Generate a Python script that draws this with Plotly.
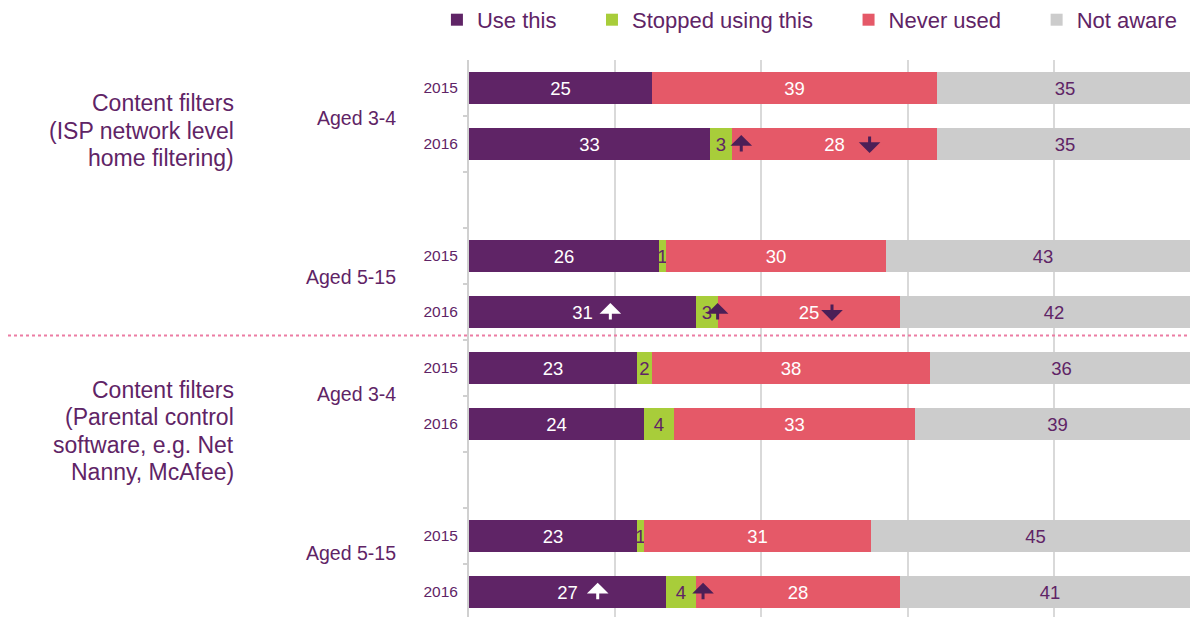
import plotly.graph_objects as go

# ---- data ----
categories = [["Content filters", "(ISP network level", "home filtering)"],
              ["Content filters", "(Parental control", "software, e.g. Net", "Nanny, McAfee)"]]
age_groups = ["Aged 3-4", "Aged 5-15"]
years = ["2015", "2016"]

use_this = [25, 33, 26, 31, 23, 24, 23, 27]
stopped_using = [0, 3, 1, 3, 2, 4, 1, 4]
never_used = [39, 28, 30, 25, 38, 33, 31, 28]
not_aware = [35, 35, 43, 42, 36, 39, 45, 41]

series_names = ["Use this", "Stopped using this", "Never used", "Not aware"]
series_values = [use_this, stopped_using, never_used, not_aware]
series_colors = ["#5f2466", "#a8cd3a", "#e55968", "#cccccc"]
text_colors = ["#ffffff", "#5f2466", "#ffffff", "#5f2466"]

# significance arrows: (bar index, series index, direction, xshift px)
arrows = [(1, 1, "up", 20), (1, 2, "down", 35),
          (3, 0, "up", 28), (3, 1, "up", 11), (3, 2, "down", 23),
          (7, 0, "up", 30), (7, 1, "up", 22)]

# ---- rows: each age group = 2 bars, a gap slot between age groups ----
slots = []
s = 0
for c in range(len(categories)):
    for a in range(len(age_groups)):
        for y in range(len(years)):
            slots.append(s)
            s += 1
        if a == 0:
            s += 1
tick_text = [years[i % 2] for i in range(len(slots))]

PURPLE = "#5f2466"
FONT = "Liberation Sans, Arial, sans-serif"
NB = "\u00a0"
legend_pad = [5, 5, 5, 0]

fig = go.Figure()
for name, vals, col, tcol, pad in zip(series_names, series_values, series_colors,
                                      text_colors, legend_pad):
    fig.add_trace(go.Bar(
        y=slots, x=vals, name=name + NB * pad, orientation="h",
        marker=dict(color=col, line=dict(width=0)),
        text=[str(v) if v > 0 else "" for v in vals],
        textposition="inside", insidetextanchor="middle",
        textfont=dict(color=tcol, size=18.5, family=FONT),
        width=0.57, hoverinfo="skip",
    ))

# arrows
for bi, si, d, xs in arrows:
    start = sum(series_values[k][bi] for k in range(si))
    center = start + series_values[si][bi] / 2
    col = "#ffffff" if si == 0 else "#4b1f57"
    up = d == "up"
    fig.add_annotation(
        x=center, y=slots[bi], xref="x", yref="y", text="",
        showarrow=True, ax=0, ay=18 if up else -18,
        xshift=xs, yshift=9 if up else -9,
        arrowhead=1, arrowsize=1.2, arrowwidth=3, arrowcolor=col,
    )

# age group labels
age_y = [0.54, 3.38, 5.46, 8.3]
k = 0
for c in range(len(categories)):
    for a in range(len(age_groups)):
        fig.add_annotation(x=-0.097, xref="paper", y=age_y[k], yref="y",
                           text=age_groups[a], showarrow=False, xanchor="right",
                           font=dict(size=19.5, color=PURPLE, family=FONT))
        k += 1

# category labels, one annotation per line
cat_y0 = [0.27, 5.39]
line_step = 0.49
for c, lines in enumerate(categories):
    for i, ln in enumerate(lines):
        fig.add_annotation(x=-0.319, xref="paper", y=cat_y0[c] + i * line_step, yref="y",
                           text=ln, showarrow=False, xanchor="right",
                           font=dict(size=23, color=PURPLE, family=FONT))

# dotted separator
fig.add_shape(type="line", xref="paper", yref="y", x0=(8 - 469) / 729, x1=1,
              y0=4.42, y1=4.42, line=dict(color="#ec7ca3", width=2, dash="dot"))

fig.update_layout(
    width=1190, height=609, barmode="stack", bargap=0,
    margin=dict(l=461, r=0, t=52, b=0, autoexpand=False),
    plot_bgcolor="white", paper_bgcolor="white",
    font=dict(family=FONT, color=PURPLE),
    uniformtext=dict(minsize=18, mode="show"),
    legend=dict(orientation="h", x=-0.044, xanchor="left", y=1.072, yanchor="middle",
                font=dict(size=22, color=PURPLE, family=FONT), traceorder="normal",
                bgcolor="rgba(0,0,0,0)"),
    xaxis=dict(range=[0, 99.7], showgrid=True, gridcolor="#d9d9d9", gridwidth=2,
               dtick=20, showticklabels=False, zeroline=False, fixedrange=True),
    yaxis=dict(range=[9.45, -0.5], tickvals=slots, ticktext=tick_text, ticks="",
               showline=True, linecolor="#d0d0d0", linewidth=2,
               tickfont=dict(size=15.5, color=PURPLE, family=FONT),
               ticklabelstandoff=6, showgrid=False, zeroline=False,
               minor=dict(tickvals=[i + 0.5 for i in range(9)], ticks="outside",
                          ticklen=4, tickcolor="#d0d0d0", tickwidth=2)),
)

fig.write_html("out.html")
